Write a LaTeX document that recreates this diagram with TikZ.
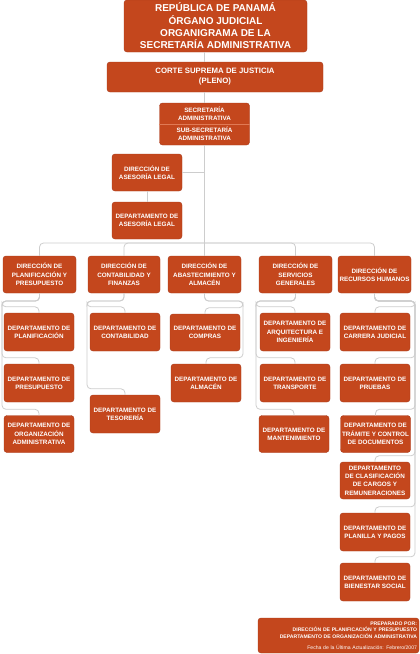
\documentclass[tikz,border=0pt]{standalone}
\usepackage{fontspec}
\setmainfont{Liberation Sans}
\definecolor{boxc}{HTML}{C4471D}
\definecolor{boxd}{HTML}{A8391A}
\definecolor{divc}{HTML}{E07A55}
\definecolor{connc}{HTML}{CDCDCD}
\begin{document}
\begin{tikzpicture}[x=1pt,y=-1pt,
  box/.style={rectangle, rounded corners=3pt, fill=boxc, draw=boxd, line width=0.4pt,
    text=white, font=\fontsize{6.3}{8.3}\selectfont\bfseries, align=center, inner sep=0pt,
    minimum width=70pt, minimum height=38pt},
  dirbox/.style={box, minimum width=73pt, minimum height=37pt},
  conn/.style={draw=connc, line width=0.8pt, rounded corners=4pt}]
\useasboundingbox (0,0) rectangle (420,654);

% top boxes
\node[box, minimum width=183pt, minimum height=52pt, font=\fontsize{10}{12.3}\selectfont\bfseries] (title) at (215.5,26)
  {REPÚBLICA DE PANAMÁ\\ÓRGANO JUDICIAL\\ORGANIGRAMA DE LA\\SECRETARÍA ADMINISTRATIVA};
\node[box, minimum width=216pt, minimum height=30pt, font=\fontsize{7.8}{10}\selectfont\bfseries] (corte) at (215,77)
  {CORTE SUPREMA DE JUSTICIA\\(PLENO)};
\node[box, minimum width=90pt, minimum height=42pt] (sec) at (204.5,124)
  {SECRETARÍA\\ADMINISTRATIVA\\[3.3pt]SUB-SECRETARÍA\\ADMINISTRATIVA};
\draw[divc, line width=0.5pt] (sec.west) -- (sec.east);

\node[box, minimum height=37pt] (asL) at (147,172.5) {DIRECCIÓN DE\\ASESORÍA LEGAL};
\node[box, minimum height=37pt] (asD) at (147,220.5) {DEPARTAMENTO DE\\ASESORÍA LEGAL};

% directions
\node[dirbox] (dirP) at (39.5,274.5) {DIRECCIÓN DE\\PLANIFICACIÓN Y\\PRESUPUESTO};
\node[dirbox, minimum width=72pt] (dirC) at (124,274.5) {DIRECCIÓN DE\\CONTABILIDAD Y\\FINANZAS};
\node[dirbox] (dirA) at (204.5,274.5) {DIRECCIÓN DE\\ABASTECIMIENTO Y\\ALMACÉN};
\node[dirbox] (dirS) at (295.5,274.5) {DIRECCIÓN DE\\SERVICIOS\\GENERALES};
\node[dirbox] (dirR) at (374.5,274.5) {DIRECCIÓN DE\\RECURSOS HUMANOS};

% departments
\node[box] (dPl) at (39,332) {DEPARTAMENTO DE\\PLANIFICACIÓN};
\node[box] (dPr) at (39,383) {DEPARTAMENTO DE\\PRESUPUESTO};
\node[box, minimum height=37pt] (dOr) at (39,434) {DEPARTAMENTO DE\\ORGANIZACIÓN\\ADMINISTRATIVA};

\node[box] (dCo) at (125,332) {DEPARTAMENTO DE\\CONTABILIDAD};
\node[box] (dTe) at (125,414) {DEPARTAMENTO DE\\TESORERÍA};

\node[box, minimum height=37pt] (dCm) at (205,332.5) {DEPARTAMENTO DE\\COMPRAS};
\node[box] (dAl) at (206,383) {DEPARTAMENTO DE\\ALMACÉN};

\node[box] (dAr) at (295,332) {DEPARTAMENTO DE\\ARQUITECTURA E\\INGENIERÍA};
\node[box] (dTr) at (295,383) {DEPARTAMENTO DE\\TRANSPORTE};
\node[box, minimum height=37pt] (dMa) at (294,434) {DEPARTAMENTO DE\\MANTENIMIENTO};

\node[box] (dCa) at (375,332) {DEPARTAMENTO DE\\CARRERA JUDICIAL};
\node[box] (dPu) at (375,383) {DEPARTAMENTO DE\\PRUEBAS};
\node[box, minimum height=37pt] (dTm) at (375.5,434) {DEPARTAMENTO DE\\TRÁMITE Y CONTROL\\DE DOCUMENTOS};
\node[box, minimum height=37pt] (dCl) at (375,480.5) {DEPARTAMENTO\\DE CLASIFICACIÓN\\DE CARGOS Y\\REMUNERACIONES};
\node[box] (dPa) at (375,532) {DEPARTAMENTO DE\\PLANILLA Y PAGOS};
\node[box] (dBi) at (375,582) {DEPARTAMENTO DE\\BIENESTAR SOCIAL};

% footer
\node[box, minimum width=161pt, minimum height=35pt, text width=157pt, inner xsep=2pt, align=right,
  font=\fontsize{5.1}{6.6}\selectfont\bfseries] (foot) at (338.5,635.5)
  {PREPARADO POR:\\DIRECCIÓN DE PLANIFICACIÓN Y PRESUPUESTO\\DEPARTAMENTO DE ORGANIZACIÓN ADMINISTRATIVA\\[4.5pt]{\mdseries Fecha de la Última Actualización: Febrero/2007}};

% coordinates for buses
\coordinate (busy) at (0,243);
\coordinate (drop) at (0,301);
\coordinate (xP) at (2,0);
\coordinate (xC) at (87,0);
\coordinate (xA) at (243,0);
\coordinate (xS) at (256,0);
\coordinate (xR) at (415,0);

\begin{scope}[on background layer/.style={}]
% spine
\draw[conn] (title.south -| sec.north) -- (corte.north -| sec.north);
\draw[conn] (corte.south -| sec.north) -- (sec.north);
\draw[conn] (sec.south) -- (dirA.north);
\draw[conn] (asL.east) -- (asL.east -| sec.south);
\draw[conn] (asL.south) -- (asD.north);
\draw[conn] (busy -| sec.south) -| (dirP.north);
\draw[conn] (busy -| sec.south) -| (dirC.north);
\draw[conn] (busy -| sec.south) -| (dirS.north);
\draw[conn] (busy -| sec.south) -| (dirR.north);

% column 1
\foreach \d in {dPl,dPr,dOr}
  \draw[conn] (dirP.south) |- (drop -| xP) |- ([yshift=6pt]\d.north) -- (\d.north);
% column 2
\foreach \d in {dCo,dTe}
  \draw[conn] (dirC.south) |- (drop -| xC) |- ([yshift=6pt]\d.north) -- (\d.north);
% column 3
\foreach \d in {dCm,dAl}
  \draw[conn] (dirA.south) |- (drop -| xA) |- ([yshift=6pt]\d.north) -- (\d.north);
% column 4
\foreach \d in {dAr,dTr,dMa}
  \draw[conn] (dirS.south) |- (drop -| xS) |- ([yshift=6pt]\d.north) -- (\d.north);
% column 5
\foreach \d in {dCa,dPu,dTm,dCl,dPa,dBi}
  \draw[conn] (dirR.south) |- (drop -| xR) |- ([yshift=6pt]\d.north) -- (\d.north);
\end{scope}
\end{tikzpicture}
\end{document}
